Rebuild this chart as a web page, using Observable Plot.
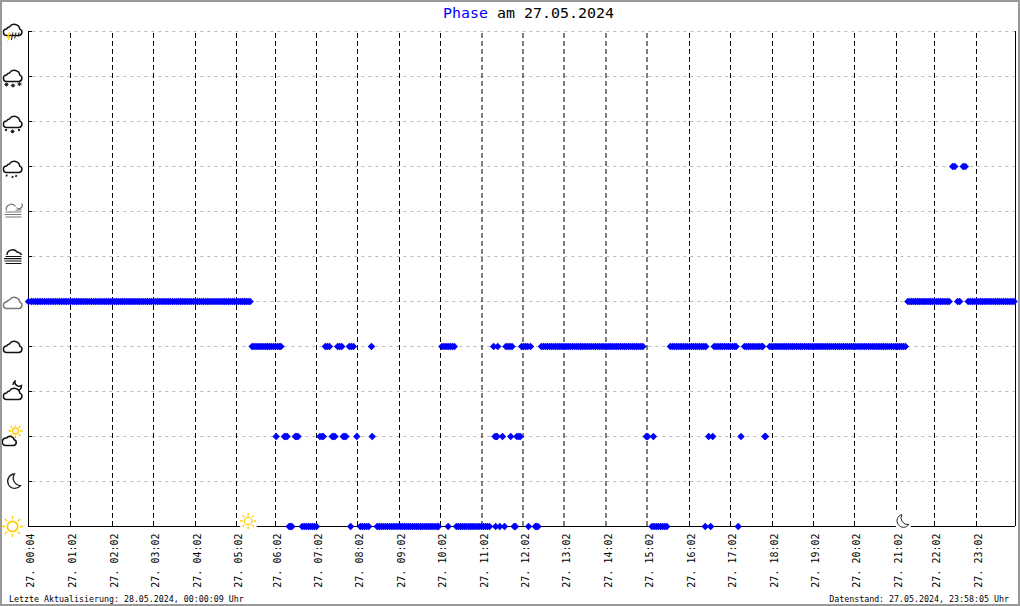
<!DOCTYPE html>
<html><head><meta charset="utf-8">
<script src="https://cdn.jsdelivr.net/npm/d3@7"></script>
<script src="https://cdn.jsdelivr.net/npm/@observablehq/plot@0.6"></script>
<style>
html,body{margin:0;padding:0;background:#fff}
#page{position:relative;width:1020px;height:606px;overflow:hidden;font-family:"DejaVu Sans Mono",monospace;color:#000}
#page svg{position:absolute;left:0;top:0;background:transparent}
#frame{position:absolute;left:0;top:0;width:1016px;height:602px;border:2px solid #999;pointer-events:none}
#title{position:absolute;left:443px;top:4px;font-size:14.95px;line-height:18px;white-space:pre}
#title b{font-weight:normal;color:#0000ff}
.foot{position:absolute;top:594px;font-size:8.3px;line-height:10px;white-space:pre}
</style></head><body>
<div id="page">
<div id="title"><b>Phase</b> am 27.05.2024</div>
<div class="foot" style="left:9px">Letzte Aktualisierung: 28.05.2024, 00:00:09 Uhr</div>
<div class="foot" style="right:11px">Datenstand: 27.05.2024, 23:58:05 Uhr</div>
<div id="frame"></div>
</div>
<script>
// Phases, bottom to top
const phases = ["Sonnig","Klar","Heiter","Heiter Nacht","Wolkig","Bedeckt","Nebel","Dunst","Regen","Schneeregen","Schnee","Gewitter"];
// Sample times, minutes after midnight, per phase
const timesBedeckt = [4,8,11,14,17,20,23,26,29,32,35,38,41,44,47,50,53,56,59,62,65,68,71,74,77,80,83,86,89,92,95,98,101,104,107,110,113,116,119,122,125,128,131,134,137,140,143,146,149,152,155,158,161,164,167,170,173,176,179,182,185,188,191,194,197,200,203,206,209,212,215,218,221,224,227,230,233,236,239,242,245,248,251,254,257,260,263,266,269,272,275,278,281,284,287,290,293,296,299,302,305,308,311,314,317,320,323,
 1280,1283,1286,1289,1292,1295,1298,1301,1304,1307,1310,1313,1316,1319,1322,1325,1328,1331,1334,1337,1340,1343,1355,1358,
 1370,1373,1376,1379,1382,1385,1388,1391,1394,1397,1400,1403,1406,1409,1412,1415,1418,1421,1424,1427,1430,1433,1436];
const timesWolkig = [326,329,332,335,338,341,344,347,350,353,356,359,362,365,368,370,435,438,441,453,456,459,470,473,476,502,604,607,610,613,616,619,622,679,685,697,700,703,706,720,723,726,729,733,
 749,752,755,758,761,764,767,770,773,776,779,782,785,788,791,794,797,800,803,806,809,812,815,818,821,824,827,830,833,836,839,842,845,848,851,854,857,860,863,866,869,872,875,878,881,884,887,890,893,896,
 935,938,941,944,947,950,953,956,959,962,965,968,971,974,977,980,983,986,998,1001,1004,1007,1010,1013,1016,1019,1022,1025,1028,1030,1042,1045,1048,1051,1054,1057,1060,1063,1066,1068,
 1078,1081,1084,1087,1090,1093,1096,1099,1102,1105,1108,1111,1114,1117,1120,1123,1126,1129,1132,1135,1138,1141,1144,1147,1150,1153,1156,1159,1162,1165,1168,1171,1174,1177,1180,1183,1186,1189,1192,1195,1198,1201,1204,1207,1210,1213,1216,1219,1222,1225,1228,1231,1234,1237,1240,1243,1246,1249,1252,1255,1258,1261,1264,1267,1270,1273,1276];
const timesHeiter = [363,375,377,379,391,393,395,427,430,432,445,447,449,461,463,465,481,503,681,683,684,692,704,713,716,718,901,903,911,990,996,1037,1071,1072];
const timesSonnig = [382,384,386,401,404,407,410,413,416,419,422,472,486,489,492,495,498,
 510,513,516,519,522,525,528,531,534,537,540,543,546,549,552,555,558,561,564,567,570,573,576,579,582,585,588,591,594,597,599,613,
 625,628,631,634,637,640,643,646,649,652,655,658,661,664,667,670,673,682,688,695,709,711,730,740,742,744,909,912,915,918,921,924,927,930,985,993,1033];
const timesRegen = [1348,1351,1363,1366];
// Hour ticks: minutes after midnight and their labels
const tickTimes = [4,62,122,182,242,302,362,422,482,542,602,662,722,782,842,902,962,1022,1082,1142,1202,1262,1322,1382];
const tickLabels = ["27. 00:04","27. 01:02","27. 02:02","27. 03:02","27. 04:02","27. 05:02","27. 06:02","27. 07:02","27. 08:02","27. 09:02","27. 10:02","27. 11:02","27. 12:02","27. 13:02","27. 14:02","27. 15:02","27. 16:02","27. 17:02","27. 18:02","27. 19:02","27. 20:02","27. 21:02","27. 22:02","27. 23:02"];
const lastTime = 1438;
const sunrise = 320, sunset = 1272;

const samples = [
  ...timesSonnig.map(t => ({t, phase:"Sonnig"})),
  ...timesHeiter.map(t => ({t, phase:"Heiter"})),
  ...timesWolkig.map(t => ({t, phase:"Wolkig"})),
  ...timesBedeckt.map(t => ({t, phase:"Bedeckt"})),
  ...timesRegen.map(t => ({t, phase:"Regen"}))
];

// Icons: 24x24 viewBox, centre = tick position
const uri = s => "data:image/svg+xml," + encodeURIComponent(`<svg xmlns="http://www.w3.org/2000/svg" viewBox="0 0 24 24" width="24" height="24">${s}</svg>`);
const cloud = (c, dy=0) => `<path transform="translate(0 ${dy})" d="M6.3 18H18.3a3.3 3.3 0 0 0 1-6.4A5.6 5.4 0 0 0 9 9.4A4 4 0 0 0 6 11.6a3.2 3.2 0 0 0 .3 6.4z" fill="#fff" stroke="${c}" stroke-width="1.5"/>`;
const sunRays = (cx,cy,r1,r2,c="#ffcc00") => d3.range(8).map(i=>{const a=i*Math.PI/4;return `<line x1="${cx+r1*Math.cos(a)}" y1="${cy+r1*Math.sin(a)}" x2="${cx+r2*Math.cos(a)}" y2="${cy+r2*Math.sin(a)}" stroke="${c}" stroke-width="1.3"/>`}).join("");
const dots = (pts,r=1.2,c="#222") => pts.map(([x,y])=>`<circle cx="${x}" cy="${y}" r="${r}" fill="${c}"/>`).join("");
const moonPath = (c) => `<path d="M14 4.5A7.2 7.2 0 1 0 20 16.2A7.6 7.6 0 0 1 14 4.5z" fill="#fff" stroke="${c}" stroke-width="1.3"/>`;
const star = (x,y,r) => dots([[x,y]],r*0.6)+`<path d="M${x-r} ${y}h${2*r}M${x} ${y-r}v${2*r}M${x-r*.7} ${y-r*.7}l${1.4*r} ${1.4*r}M${x-r*.7} ${y+r*.7}l${1.4*r} ${-1.4*r}" stroke="#222" stroke-width=".8"/>`;
const icons = {
  "Gewitter": uri(cloud("#111",-2)+`<path d="M8.500 13l-2.500 5h2l-1.500 5 4.300-6.500H8.500l1.800-3.500z" fill="#ffcc00"/><path d="M12.500 13l-1.600 7.500M15.500 13l-1.300 6M18.500 13l-.8 4" stroke="#222" stroke-width="1.100"/>`),
  "Schnee": uri(cloud("#111",-1)+star(6,20,2.200)+star(12.500,21,2.200)+star(19,19.500,2.200)),
  "Schneeregen": uri(cloud("#111",0)+dots([[5.500,20.500],[18.500,20.500]],1.200)+star(12,22,2.200)),
  "Regen": uri(cloud("#111",0)+`<path d="M6.500 20.200l-.8 1.800M12.500 21.500l-.9 2M16 20.500l-.8 1.800" stroke="#222" stroke-width="1.800"/>`),
  "Dunst": uri(`<path d="M6 11A5 5 0 0 1 15 7M16 8a3 3 0 0 0 5-4M15 10.500H21" fill="none" stroke="#777" stroke-width="1.200"/><path d="M5 12.500H21M4 15H21M5 17.500H21" stroke="#777" stroke-width="1.100"/>`),
  "Nebel": uri(`<path d="M6.500 10.500A5.500 5 0 0 1 16.500 7.500Q20 8 21 10.500" fill="none" stroke="#111" stroke-width="1.400"/><path d="M5 12H21M3.500 14.200H21M4 16.500H21M5 19H21" stroke="#111" stroke-width="1.200"/>`),
  "Bedeckt": uri(cloud("#777",1)),
  "Wolkig": uri(cloud("#111",0)),
  "Heiter Nacht": uri(`<path d="M12.500 3.800a5 5 0 0 1 2-4a4.500 4.500 0 0 0 3 5a4 4 0 0 0 3.500-.500a5 5 0 0 1-4 5" transform="translate(0 1.800)" fill="#fff" stroke="#111" stroke-width="1.400"/>`+cloud("#111",2)),
  "Heiter": uri(sunRays(15,6.500,4.500,7)+`<circle cx="15" cy="6.500" r="3" fill="none" stroke="#ffcc00" stroke-width="1.300"/><path d="M4.800 21H13a3 3 0 0 0 .8-5.800A4.500 4.500 0 0 0 6 13.500A3.800 3.800 0 0 0 4.800 21z" fill="#fff" stroke="#111" stroke-width="1.600"/>`),
  "Klar": uri(moonPath("#222")),
  "Sonnig": uri(sunRays(12,12,7.500,10.800)+`<circle cx="12" cy="12" r="5.200" fill="#fff" stroke="#ffcc00" stroke-width="1.700"/>`)
};
const smallSun = uri(`<rect x="4" y="3" width="16.500" height="21" fill="#fff"/>`+sunRays(12,12,5.500,8)+`<circle cx="12" cy="12" r="3.800" fill="#fff" stroke="#ffcc00" stroke-width="1.200"/>`);
const smallMoon = uri(`<rect x="5" y="3" width="15" height="21" fill="#fff"/><path d="M11 5.500A6.500 6.500 0 1 0 18 15.500A6.800 6.800 0 0 1 11 5.500z" fill="#fff" stroke="#222" stroke-width="1"/>`);

const chart = Plot.plot({
  width: 1020, height: 606,
  marginLeft: 28, marginRight: 4, marginTop: 30, marginBottom: 80,
  style: {background:"transparent", overflow:"visible"},
  x: {type:"linear", domain:[...tickTimes,lastTime],
      range:[28,70,112,153,195,236,275,316,357,399,440,481.5,522.5,563.5,605.5,646.5,689,730,772,813,854,896,934,976,1015], axis:null},
  y: {type:"point", domain:phases, range:[526,30], padding:0, axis:null},
  marks: [
    Plot.ruleY(phases,{y:d=>d, x1:10, x2:lastTime, stroke:"#bbb", strokeDasharray:"3,4"}),
    Plot.ruleX(tickTimes.slice(1),{x:d=>d, y1:()=>phases[0], y2:()=>phases[11], stroke:"#000", strokeDasharray:"5,3"}),
    Plot.ruleX([tickTimes[0],lastTime],{x:d=>d, y1:()=>phases[0], y2:()=>phases[11], stroke:"#000"}),
    Plot.ruleY([phases[0]],{y:d=>d, x1:tickTimes[0], x2:lastTime, stroke:"#000"}),
    Plot.ruleY(phases,{y:d=>d, x1:tickTimes[0], x2:9.5, stroke:"#000"}),
    Plot.dot(samples,{x:"t", y:"phase", symbol:"diamond2", r:3.35, fill:"#0000ff", stroke:"none"}),
    Plot.image(phases,{y:d=>d, x:tickTimes[0], src:d=>icons[d], width:24, height:24, dx:-16, preserveAspectRatio:"none"}),
    Plot.image([sunrise],{x:d=>d, y:()=>phases[0], src:()=>smallSun, width:24, height:24, dy:-5.5}),
    Plot.image([sunset],{x:d=>d, y:()=>phases[0], src:()=>smallMoon, width:24, height:24, dy:-5.5}),
    Plot.axisX({ticks:tickTimes, tickFormat:d=>tickLabels[tickTimes.indexOf(d)], tickRotate:-90, tickSize:0, tickPadding:7,
      fontFamily:"DejaVu Sans Mono", fontSize:10, label:null, anchor:"bottom", dx:2.5, fill:"#000"})
  ]
});
document.getElementById("page").prepend(chart);
</script>
</body></html>
